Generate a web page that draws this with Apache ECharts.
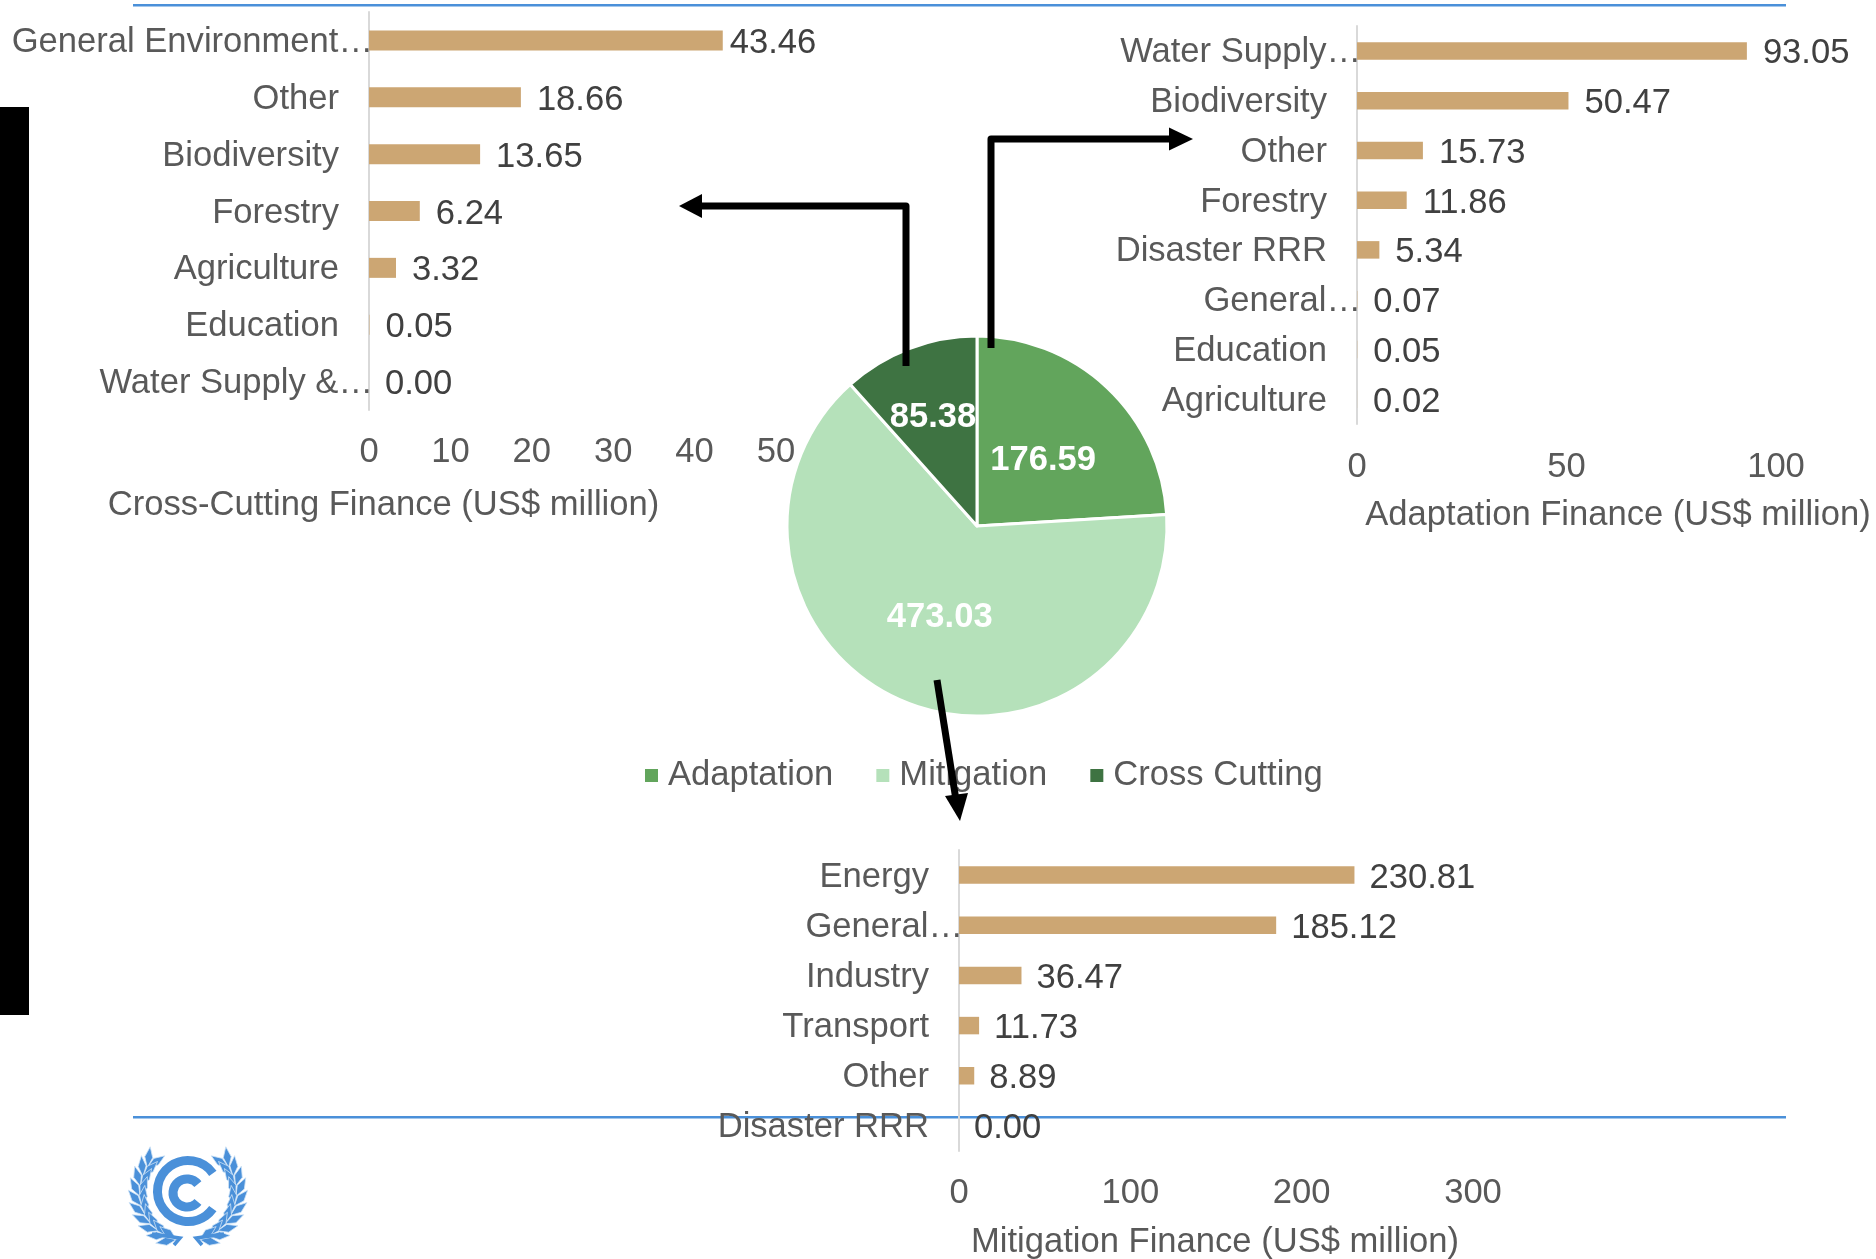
<!DOCTYPE html>
<html>
<head>
<meta charset="utf-8">
<style>html,body{margin:0;padding:0;background:#fff}#c{width:1876px;height:1259px}</style>
<script src="https://cdn.jsdelivr.net/npm/echarts@6/dist/echarts.min.js"></script>
</head>
<body>
<div id="c"></div>
<script>
const pieNames = ['Adaptation', 'Mitigation', 'Cross Cutting'];
const pieValues = [176.59, 473.03, 85.38];

const crossCategories = ['General Environment…', 'Other', 'Biodiversity', 'Forestry', 'Agriculture', 'Education', 'Water Supply &…'];
const crossValues = [43.46, 18.66, 13.65, 6.24, 3.32, 0.05, 0.00];

const adaptCategories = ['Water Supply…', 'Biodiversity', 'Other', 'Forestry', 'Disaster RRR', 'General…', 'Education', 'Agriculture'];
const adaptValues = [93.05, 50.47, 15.73, 11.86, 5.34, 0.07, 0.05, 0.02];

const mitCategories = ['Energy', 'General…', 'Industry', 'Transport', 'Other', 'Disaster RRR'];
const mitValues = [230.81, 185.12, 36.47, 11.73, 8.89, 0.00];

const FONT = '"Liberation Sans", Arial, sans-serif';
const FS = 34.6;
const GREY = '#595959';
const DARK = '#404040';
const BAR = '#CCA673';
const BLUE = '#4A90D9';
const PIE_COLORS = ['#62A55C', '#B5E1BA', '#3E7342'];

function catLabel(indent) {
  return {
    margin: -4,
    fontFamily: FONT, fontSize: FS, color: GREY,
    formatter: v => v.endsWith('…') ? `{t|${v}}` : `{n|${v}}`,
    rich: {
      t: {fontFamily: FONT, fontSize: FS, color: GREY, padding: [4, 0, 0, 0]},
      n: {fontFamily: FONT, fontSize: FS, color: GREY, padding: [4, indent, 0, 0]}
    }
  };
}
function yAxis(i, cats, indent) {
  return {
    gridIndex: i, type: 'category', inverse: true, data: cats,
    axisTick: {show: false},
    axisLine: {show: true, lineStyle: {color: '#D9D9D9', width: 2}},
    axisLabel: catLabel(indent)
  };
}
function xAxis(i, max, interval, margin) {
  return {
    gridIndex: i, type: 'value', min: 0, max, interval,
    axisLine: {show: false}, axisTick: {show: false}, splitLine: {show: false},
    axisLabel: {margin, fontFamily: FONT, fontSize: FS, color: GREY}
  };
}
function bars(i, values, width, dist, firstDist) {
  return {
    type: 'bar', xAxisIndex: i, yAxisIndex: i, barWidth: width,
    data: values.map((v, k) => (k === 0 && firstDist !== undefined)
      ? {value: v, label: {distance: firstDist}} : v),
    itemStyle: {color: BAR}, z: 3,
    label: {
      show: true, position: 'right', distance: dist, offset: [0, 3],
      fontFamily: FONT, fontSize: FS, color: DARK,
      formatter: p => p.value.toFixed(2)
    }
  };
}
function arrowLine(points, z) {
  return {type: 'polyline', z: z, shape: {points},
    style: {stroke: '#000', lineWidth: 7, fill: null, lineJoin: 'round', lineCap: 'butt'}};
}
function arrowHead(points, z) {
  return {type: 'polygon', z: z, shape: {points}, style: {fill: '#000'}};
}

/* logo and rule decorations */
function logo() {
  const els = [];
  const cx = 188, cy = 1191, wy = 1193, R = 48;
  const arc = (x, y, r, w, a) => ({type: 'arc', z: 1,
    shape: {cx: x, cy: y, r, startAngle: -a, endAngle: a, clockwise: false},
    style: {stroke: BLUE, lineWidth: w, fill: null}});
  els.push(arc(cx, cy, 30.5, 9, 0.62));
  els.push(arc(cx - 1, cy + 2, 14, 9, 0.68));
  const n = 10;
  for (const side of [-1, 1]) {
    for (let i = 0; i < n; i++) {
      const a = (58 + i * (108 / (n - 1))) * Math.PI / 180;
      const bx = cx + side * R * Math.sin(a), by = wy - R * Math.cos(a);
      for (const s of [-1, 1]) {
        const t = Math.atan2(-Math.sin(a), Math.cos(a)) + s * 0.42;
        const dx = side * -1 * Math.cos(t), dy = Math.sin(t);
        const L = 21, W = 4;
        const ex = bx + dx * L, ey = by + dy * L;
        const mx = (bx + ex) / 2, my = (by + ey) / 2;
        els.push({type: 'polygon', z: 1, shape: {points: [
          [bx, by], [mx - dy * W, my + dx * W], [ex, ey], [mx + dy * W, my - dx * W]
        ]}, style: {fill: BLUE, stroke: '#CFE3F6', lineWidth: 0.8}});
      }
    }
  }
  els.push({type: 'polyline', z: 1, shape: {points: [[152, 1234], [180, 1238], [174, 1245]]},
    style: {stroke: BLUE, lineWidth: 3.5, fill: null}});
  els.push({type: 'polyline', z: 1, shape: {points: [[224, 1234], [196, 1238], [202, 1245]]},
    style: {stroke: BLUE, lineWidth: 3.5, fill: null}});
  return els;
}

const titleBase = {textStyle: {fontFamily: FONT, fontSize: FS, color: GREY, fontWeight: 'normal'}, textAlign: 'center', padding: 0};
const pieLabelShift = [{dx: -1, dy: 6}, {dx: 0, dy: 1}, {dx: -9, dy: -17}];

const option = {
  animation: false,
  backgroundColor: '#fff',
  grid: [
    {left: 369, top: 12, width: 407, height: 398, containLabel: false},
    {left: 1357, top: 26, width: 419, height: 398},
    {left: 959, top: 850, width: 514, height: 301}
  ],
  xAxis: [xAxis(0, 50, 10, 25), xAxis(1, 100, 50, 26), xAxis(2, 300, 100, 25)],
  yAxis: [yAxis(0, crossCategories, 34), yAxis(1, adaptCategories, 34), yAxis(2, mitCategories, 34)],
  title: [
    Object.assign({text: 'Cross-Cutting Finance (US$ million)', left: 383.5, top: 488}, titleBase),
    Object.assign({text: 'Adaptation Finance (US$ million)', left: 1618, top: 498}, titleBase),
    Object.assign({text: 'Mitigation Finance (US$ million)', left: 1215, top: 1225}, titleBase)
  ],
  legend: {
    data: pieNames, left: 643, top: 758, padding: 0,
    icon: 'rect', itemWidth: 15, itemHeight: 15, itemGap: 41, selectedMode: false,
    textStyle: {fontFamily: FONT, fontSize: FS, color: GREY, padding: [0, 0, 0, 4]}
  },
  series: [
    bars(0, crossValues, 20, 16, 7),
    bars(1, adaptValues, 17.5, 16),
    bars(2, mitValues, 17.5, 15),
    {
      type: 'pie', center: [977, 526], radius: [0, 190], startAngle: 90, clockwise: true, z: 4,
      color: PIE_COLORS,
      data: pieNames.map((n, i) => ({name: n, value: pieValues[i]})),
      itemStyle: {borderColor: '#fff', borderWidth: 3},
      emphasis: {disabled: true},
      label: {
        show: true, position: 'inside', color: '#fff',
        fontFamily: FONT, fontSize: FS, fontWeight: 'bold',
        formatter: p => p.value.toFixed(2)
      },
      labelLine: {show: false},
      labelLayout: p => pieLabelShift[p.dataIndex]
    }
  ],
  graphic: {elements: [
    {type: 'rect', z: 0, shape: {x: 133, y: 4, width: 1653, height: 2.5}, style: {fill: BLUE}},
    {type: 'rect', z: 0, shape: {x: 133, y: 1116, width: 1653, height: 2.5}, style: {fill: BLUE}},
    {type: 'rect', z: 10, shape: {x: 0, y: 107, width: 29, height: 908}, style: {fill: '#000'}},
    ...logo(),
    arrowLine([[906, 366], [906, 206], [700, 206]], 100),
    arrowHead([[679, 206], [702, 194], [702, 218]], 100),
    arrowLine([[991, 348], [991, 139], [1170, 139]], 100),
    arrowHead([[1193, 139], [1169, 127.5], [1169, 150.5]], 100),
    arrowLine([[937, 680], [956, 800]], 100),
    arrowHead([[960, 821], [945, 796], [968, 793]], 100)
  ]}
};
const chart = echarts.init(document.getElementById('c'));
chart.setOption(option);
</script>
</body>
</html>
